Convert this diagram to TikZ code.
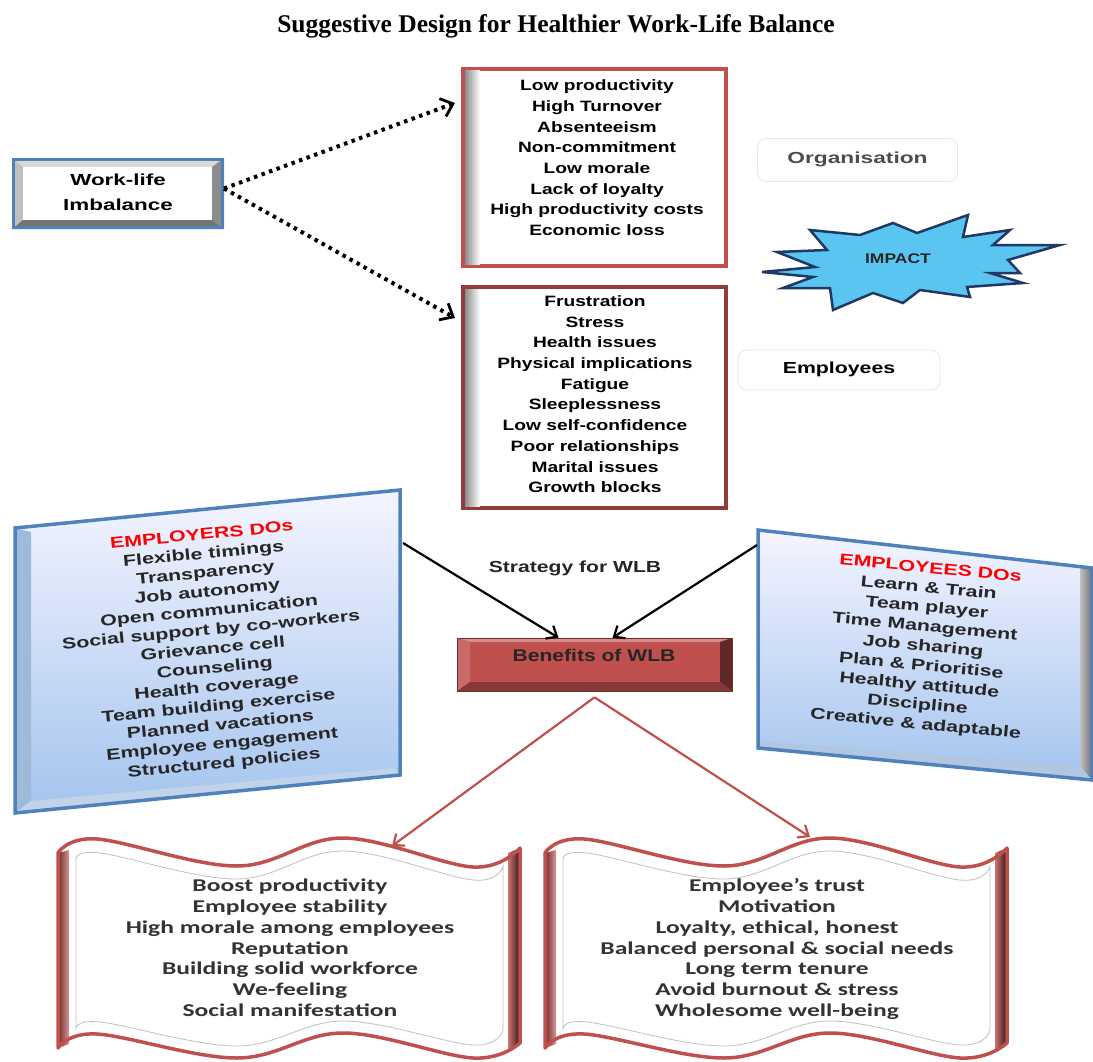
\documentclass[tikz,border=0pt]{standalone}
\usepackage{fontspec}
\usepackage{graphicx}
\setmainfont{Liberation Serif}
\newfontfamily\arl{Liberation Sans}
\newfontfamily\crl{Carlito}
\usetikzlibrary{arrows.meta}
\definecolor{wlbred}{RGB}{192,80,77}
\definecolor{wlbblue}{RGB}{79,129,189}
\definecolor{skyblue}{RGB}{163,196,238}
\definecolor{skyfill}{RGB}{91,197,242}
\definecolor{navy}{RGB}{31,56,100}
\newcommand{\wide}[2]{\scalebox{#1}[1]{\begin{tabular}{@{}c@{}}#2\end{tabular}}}
\newcommand{\wave}{plot[smooth,tension=.6] coordinates {(58,853) (97,839) (237,866) (343,838) (473,867) (520,848)}
    -- plot[smooth,tension=.6] coordinates {(520,1043) (473,1058) (343,1033) (237,1058) (97,1034) (58,1048)} -- cycle}
\newcommand{\innerwave}{plot[smooth,tension=.6] coordinates {(76,860) (100,853) (237,879) (343,851) (473,880) (503,866)}
    -- plot[smooth,tension=.6] coordinates {(503,1030) (473,1045) (343,1021) (237,1046) (100,1022) (76,1030)} -- cycle}

\begin{document}
\begin{tikzpicture}[x=1pt,y=-1pt,
    every node/.style={inner sep=0pt},
    lst/.style={font=\arl\bfseries\fontsize{15}{20.7}\selectfont},
    tilt/.style={font=\arl\bfseries\fontsize{15.6}{19.1}\selectfont,text=black!85},
    scr/.style={font=\crl\bfseries\fontsize{18}{20.8}\selectfont,text=black!80},
    impbox/.style={draw=wlbred,line width=4pt,minimum width=263pt,minimum height=197pt},
    tagbox/.style={draw=black!10,line width=.8pt,rounded corners=9pt,
        minimum width=200pt,minimum height=43pt,font=\arl\bfseries\fontsize{16}{18}\selectfont},
    dotarrow/.style={line width=4pt,dash pattern=on 3.5pt off 4.5pt,
        -{Straight Barb[length=11pt,width=19pt,line width=2.8pt]}},
    solidarrow/.style={line width=2.2pt,-{Straight Barb[length=9pt,width=15pt]}}]
    \useasboundingbox (0,0) rectangle (1093,1062);
    \node[font=\bfseries\fontsize{25.5}{28}\selectfont] (title) at (556,26)
        {Suggestive Design for Healthier Work-Life Balance};

    \fill[black!15] (12,158) -- (224,158) -- (212,167) -- (23,167) -- cycle;
    \fill[black!25] (12,158) -- (23,167) -- (23,220) -- (12,229) -- cycle;
    \fill[black!45] (224,158) -- (212,167) -- (212,220) -- (224,229) -- cycle;
    \fill[black!55] (12,229) -- (23,220) -- (212,220) -- (224,229) -- cycle;
    \fill[white] (23,167) rectangle (212,220);
    \node[draw=wlbblue,line width=3pt,minimum width=209pt,minimum height=68pt,
        font=\arl\bfseries\fontsize{16}{25}\selectfont] (wli) at (118,193.5)
        {\wide{1.4}{Work-life\\Imbalance}};

    \node[impbox] (orgimp) at (594.5,167.5) {};
    \node[impbox,draw=wlbred!75!black,minimum height=221pt] (empimp) at (594.5,397.5) {};
    \foreach \ya/\yb in {71/264,289/506}
        \shade[left color=black!45,right color=white] (465,\ya) rectangle (480,\yb);
    \node[lst] (orglist) at (597,159) {\wide{1.28}{Low productivity\\High Turnover\\Absenteeism\\
        Non-commitment\\Low morale\\Lack of loyalty\\High productivity costs\\Economic loss}};
    \node[lst] (emplist) at (595,395.5) {\wide{1.28}{Frustration\\Stress\\Health issues\\
        Physical implications\\Fatigue\\Sleeplessness\\Low self-confidence\\
        Poor relationships\\Marital issues\\Growth blocks}};
    \draw[dotarrow] ([yshift=5pt]wli.east) -- ([xshift=-6pt,yshift=-36pt]orgimp.north west);
    \draw[dotarrow] ([yshift=5pt]wli.east) -- ([xshift=-6pt,yshift=-33pt]empimp.north west);

    \node[tagbox,text=black!70] (orgtag) at (857.5,160) {\wide{1.42}{Organisation}};
    \node[tagbox,minimum width=202pt,minimum height=40pt] (emptag) at (839,370)
        {\wide{1.33}{Employees}};
    \filldraw[fill=skyfill,draw=navy,line width=2.5pt]
        (762,272) -- (815,267) -- (777,252) -- (827,250) -- (810,230) -- (860,235) --
        (893,223) -- (917,233) -- (968,215) -- (963,237) -- (1010,230) -- (993,245) --
        (1060,245) -- (1008,260) -- (1020,273) -- (990,273) -- (1023,283) -- (967,287) --
        (970,297) -- (920,290) -- (903,303) -- (873,293) -- (833,310) -- (830,288) --
        (783,288) -- (813,277) -- cycle;
    \node[font=\arl\bfseries\fontsize{14}{16}\selectfont,text=black!85] (impact) at (898,260)
        {\wide{1.25}{IMPACT}};

    \shade[top color=blue!4!white,bottom color=skyblue]
        (15,528) -- (400,490) -- (400,775) -- (15,813) -- cycle;
    \fill[wlbblue!55] (15,528) -- (31,532) -- (31,801) -- (15,813) -- cycle;
    \fill[wlbblue!35] (15,813) -- (31,801) -- (395,768) -- (400,775) -- cycle;
    \draw[wlbblue,line width=3.5pt] (15,528) -- (400,490) -- (400,775) -- (15,813) -- cycle;
    \shade[top color=blue!4!white,bottom color=skyblue]
        (758,530) -- (1092,568) -- (1092,780) -- (758,748) -- cycle;
    \shade[left color=black!25,right color=black!55]
        (1080,567) -- (1092,568) -- (1092,780) -- (1080,772) -- cycle;
    \fill[wlbblue!45] (758,741) -- (1080,766) -- (1092,780) -- (758,748) -- cycle;
    \draw[wlbblue,line width=3.5pt] (758,530) -- (1092,568) -- (1092,780) -- (758,748) -- cycle;
    \node[tilt,rotate=5.6] (erdo) at (213,650) {\wide{1.37}{\textcolor{red}{EMPLOYERS DOs}\\
        Flexible timings\\Transparency\\Job autonomy\\Open communication\\
        Social support by co-workers\\Grievance cell\\Counseling\\Health coverage\\
        Team building exercise\\Planned vacations\\Employee engagement\\Structured policies}};
    \node[tilt,rotate=-5.5,font=\arl\bfseries\fontsize{15.6}{19.5}\selectfont] (eedo) at (923,647)
        {\wide{1.37}{\textcolor{red}{EMPLOYEES DOs}\\
        Learn \& Train\\Team player\\Time Management\\Job sharing\\Plan \& Prioritise\\
        Healthy attitude\\Discipline\\Creative \& adaptable}};
    \coordinate (erdoC) at (403,543);
    \coordinate (eedoC) at (757,545);

    \node[font=\arl\bfseries\fontsize{16}{18}\selectfont,text=black!85] (strat) at (575,569)
        {\wide{1.32}{Strategy for WLB}};
    \fill[wlbred] (457,638) rectangle (732,691);
    \fill[wlbred!65!white] (457,638) -- (732,638) -- (720,642) -- (470,642) -- cycle;
    \fill[wlbred!85!white] (457,638) -- (470,642) -- (470,682) -- (457,691) -- cycle;
    \fill[wlbred!50!black] (732,638) -- (720,642) -- (720,682) -- (732,691) -- cycle;
    \fill[wlbred!70!black] (457,691) -- (470,682) -- (720,682) -- (732,691) -- cycle;
    \node[draw=wlbred!60!black,line width=.6pt,minimum width=275pt,minimum height=53pt]
        (wlb) at (594.5,664.5) {};
    \node[font=\arl\bfseries\fontsize{17}{19}\selectfont,text=black!85] (wlbtxt) at (594,658)
        {\wide{1.24}{Benefits of WLB}};
    \draw[solidarrow] (erdoC) -- ([xshift=-36pt]wlb.north);
    \draw[solidarrow] (eedoC) -- ([xshift=18pt]wlb.north);

    \foreach \sx in {0,487} {
        \begin{scope}[xshift=\sx pt]
            \fill[white] \wave;
            \shade[left color=wlbred!55!black,right color=wlbred!60!white]
                (58,853) -- (69,850) -- (69,1044) -- (58,1048) -- cycle;
            \shade[left color=wlbred!80!white,right color=wlbred!25!black]
                (508,853) -- (520,848) -- (520,1043) -- (508,1050) -- cycle;
            \draw[black!25,line width=.8pt] \innerwave;
            \draw[wlbred,line width=3.5pt,line join=round] \wave;
        \end{scope}
    }
    \node[scr] (benorg) at (290,950) {\wide{1.42}{Boost productivity\\Employee stability\\
        High morale among employees\\Reputation\\Building solid workforce\\We-feeling\\
        Social manifestation}};
    \node[scr] (benemp) at (777,950) {\wide{1.42}{Employee’s trust\\Motivation\\
        Loyalty, ethical, honest\\Balanced personal \& social needs\\Long term tenure\\
        Avoid burnout \& stress\\Wholesome well-being}};
    \coordinate (apex) at ([yshift=-6pt]wlb.south);
    \coordinate (benorgC) at (392,846);
    \coordinate (benempC) at (810,837);
    \draw[solidarrow,wlbred] (apex) -- (benorgC);
    \draw[solidarrow,wlbred] (apex) -- (benempC);
\end{tikzpicture}
\end{document}
